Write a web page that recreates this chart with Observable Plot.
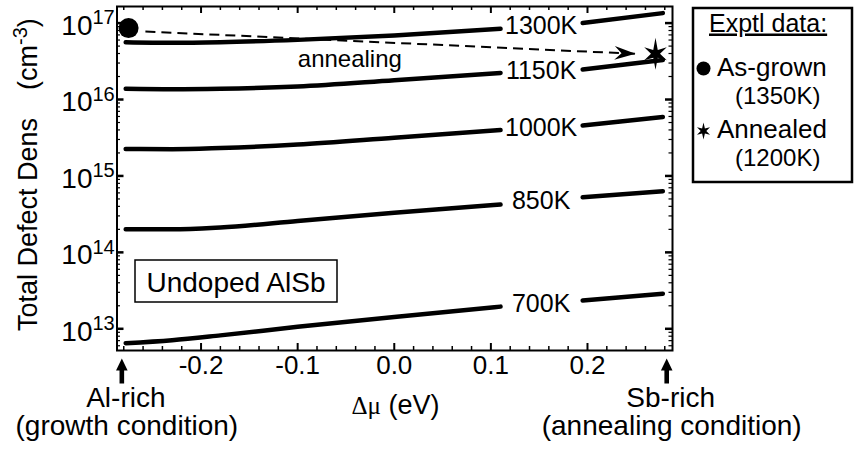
<!DOCTYPE html>
<html><head><meta charset="utf-8">
<script src="https://cdn.jsdelivr.net/npm/d3@7"></script>
<script src="https://cdn.jsdelivr.net/npm/@observablehq/plot@0.6"></script>
<style>
body{margin:0;background:#fff;}
svg text{font-family:"Liberation Sans",Arial,Helvetica,sans-serif;}
</style></head><body><div id="chart"></div>
<script>
// ---- data ----
const deltaMu = [-0.278, -0.23, -0.18, -0.1, 0.0, 0.11, 0.195, 0.278];
const temperatures = ["1300K", "1150K", "1000K", "850K", "700K"];
const dens1300K = [5.62e16, 5.52e16, 5.62e16, 6.03e16, 6.89e16, 8.41e16, 1.00e17, 1.35e17];
const dens1150K = [1.38e16, 1.36e16, 1.38e16, 1.48e16, 1.79e16, 2.23e16, 2.47e16, 3.29e16];
const dens1000K = [2.26e15, 2.24e15, 2.32e15, 2.57e15, 3.16e15, 3.98e15, 4.57e15, 5.89e15];
const dens850K  = [2.00e14, 2.00e14, 2.12e14, 2.57e14, 3.29e14, 4.22e14, 5.25e14, 6.31e14];
const dens700K  = [6.49e12, 7.10e12, 8.20e12, 1.06e13, 1.43e13, 1.95e13, 2.34e13, 2.87e13];
const labelDeltaMu = 0.152;

const exptNames = ["As-grown", "Annealed"];
const exptTemps = ["(1350K)", "(1200K)"];
const exptDeltaMu = [-0.275, 0.2704];
const exptDensity = [8.6e16, 3.96e16];

const arrowStart = [-0.2576, 7.76e16];
const arrowEnd = [0.2497, 3.96e16];
const arrowLabel = "annealing";
const arrowLabelPos = [-0.046, 3.38e16];

const xTicks = [-0.2, -0.1, 0.0, 0.1, 0.2];
const xTickLabels = ["-0.2", "-0.1", "0.0", "0.1", "0.2"];
const yTicks = [1e13, 1e14, 1e15, 1e16, 1e17];
const yTickExponents = ["13", "14", "15", "16", "17"];

const conditionDeltaMu = [-0.282, 0.282];
const conditionNames = ["Al-rich", "Sb-rich"];
const conditionNotes = ["(growth condition)", "(annealing condition)"];

// ---- layout ----
const W = 854, H = 457, mL = 116.5, mR = 182, mT = 6, mB = 107;
const innerW = W - mL - mR, innerH = H - mT - mB;
const xDomain = [-0.287, 0.288];
const yDomain = [Math.pow(10, 12.716), Math.pow(10, 17.217)];

const series = [dens1300K, dens1150K, dens1000K, dens850K, dens700K];
const rows = [];
series.forEach((vals, s) => vals.forEach((v, i) => rows.push({
  temp: temperatures[s], side: deltaMu[i] < labelDeltaMu ? "L" : "R", x: deltaMu[i], y: v
})));
const gapIdx = deltaMu.findIndex(d => d > labelDeltaMu);
const labelRows = series.map((vals, s) => ({
  x: labelDeltaMu, y: Math.sqrt(vals[gapIdx - 1] * vals[gapIdx]), text: temperatures[s]
}));

const xMinor = d3.range(-14, 15).map(k => k * 0.02).filter(v => Math.abs(Math.round(v * 10) - v * 10) > 1e-6);
const yMinor = [];
for (let e = 12; e <= 17; e++) for (let m = 2; m <= 9; m++) {
  const v = m * Math.pow(10, e);
  if (v > yDomain[0] && v < yDomain[1]) yMinor.push(v);
}

// pixel helpers to orient the arrowhead
const px = v => mL + (v - xDomain[0]) / (xDomain[1] - xDomain[0]) * innerW;
const ly = Math.log10;
const py = v => mT + (ly(yDomain[1]) - ly(v)) / (ly(yDomain[1]) - ly(yDomain[0])) * innerH;
const theta = Math.atan2(py(arrowEnd[1]) - py(arrowStart[1]), px(arrowEnd[0]) - px(arrowStart[0]));

const headSymbol = {draw(ctx) {
  const pts = [[0, 0], [-21, -7], [-14, 0], [-21, 7]];
  pts.forEach(([x, y], i) => {
    const X = x * Math.cos(theta) - y * Math.sin(theta), Y = x * Math.sin(theta) + y * Math.cos(theta);
    i ? ctx.lineTo(X, Y) : ctx.moveTo(X, Y);
  });
  ctx.closePath();
}};
const star6 = (rLong, rShort, rIn) => ({draw(ctx) {
  for (let k = 0; k < 12; k++) {
    const a = k * Math.PI / 6;
    const r = k % 2 ? rIn : (k === 0 || k === 6 ? rLong : rShort);
    const X = r * Math.sin(a), Y = -r * Math.cos(a);
    k ? ctx.lineTo(X, Y) : ctx.moveTo(X, Y);
  }
  ctx.closePath();
}});
const upArrow = {draw(ctx) {
  ctx.moveTo(0, 8); ctx.lineTo(5.8, 20); ctx.lineTo(2.3, 20); ctx.lineTo(2.3, 33);
  ctx.lineTo(-2.3, 33); ctx.lineTo(-2.3, 20); ctx.lineTo(-5.8, 20); ctx.closePath();
}};
const circleSym = {draw(ctx) { ctx.moveTo(10, 0); ctx.arc(0, 0, 10, 0, 2 * Math.PI); }};

const svg = Plot.plot({
  width: W, height: H,
  marginLeft: mL, marginRight: mR, marginTop: mT, marginBottom: mB,
  style: {fontFamily: "Liberation Sans, Arial, sans-serif", background: "#fff", color: "#000", overflow: "visible"},
  x: {type: "linear", domain: xDomain, axis: null},
  y: {type: "log", domain: yDomain, axis: null},
  marks: [
    // inward ticks on all four sides
    Plot.tickX(xMinor, {x: d => d, insetTop: innerH - 4, strokeWidth: 1.5}),
    Plot.tickX(xMinor, {x: d => d, insetBottom: innerH - 4, strokeWidth: 1.5}),
    Plot.tickX(xTicks, {x: d => d, insetTop: innerH - 7, strokeWidth: 2}),
    Plot.tickX(xTicks, {x: d => d, insetBottom: innerH - 7, strokeWidth: 2}),
    Plot.tickY(yMinor, {y: d => d, insetRight: innerW - 3.5, strokeWidth: 1.2}),
    Plot.tickY(yMinor, {y: d => d, insetLeft: innerW - 3.5, strokeWidth: 1.2}),
    Plot.tickY(yTicks, {y: d => d, insetRight: innerW - 7, strokeWidth: 2.5}),
    Plot.tickY(yTicks, {y: d => d, insetLeft: innerW - 7, strokeWidth: 2.5}),
    Plot.frame({stroke: "#000", strokeWidth: 2}),
    // tick labels
    Plot.text(xTicks, {x: d => d, frameAnchor: "bottom", text: (d, i) => xTickLabels[i], dy: 23.5, fontSize: 26, fill: "#000"}),
    Plot.text(yTicks, {y: d => d, frameAnchor: "left", text: () => "10", textAnchor: "end", dx: -24.5, dy: 3, fontSize: 28, fill: "#000"}),
    Plot.text(yTicks, {y: d => d, frameAnchor: "left", text: (d, i) => yTickExponents[i], textAnchor: "start", dx: -24.5, dy: -5, fontSize: 20, fill: "#000"}),
    // curves
    Plot.line(rows, {x: "x", y: "y", z: d => d.temp + d.side, curve: "monotone-x", stroke: "#000", strokeWidth: 4.5, strokeLinecap: "round"}),
    Plot.text(labelRows, {x: "x", y: "y", text: "text", fontSize: 25, fill: "#000"}),
    // annealing arrow
    Plot.link([{x1: arrowStart[0], y1: arrowStart[1], x2: arrowEnd[0], y2: arrowEnd[1]}],
      {x1: "x1", y1: "y1", x2: "x2", y2: "y2", stroke: "#000", strokeWidth: 2, strokeDasharray: "10,6"}),
    Plot.dot([arrowEnd], {x: d => d[0], y: d => d[1], symbol: headSymbol, fill: "#000", stroke: "none", r: 5}),
    Plot.text([arrowLabelPos], {x: d => d[0], y: d => d[1], text: () => arrowLabel, fontSize: 24, fill: "#000"}),
    // experimental points
    Plot.dot(exptDeltaMu, {x: d => d, y: (d, i) => exptDensity[i], symbol: (d, i) => i === 0 ? "as" : "an", fill: "#000", stroke: "none", r: 6}),
    // condition arrows and labels
    Plot.dot(conditionDeltaMu, {x: d => d, frameAnchor: "bottom", symbol: upArrow, fill: "#000", stroke: "none", r: 5}),
    Plot.text(conditionDeltaMu, {x: d => d, frameAnchor: "bottom", text: (d, i) => conditionNames[i], dx: 4, dy: 56, fontSize: 28, fill: "#000"}),
    Plot.text(conditionDeltaMu, {x: d => d, frameAnchor: "bottom", text: (d, i) => conditionNotes[i], dx: 5, dy: 84, fontSize: 28, fill: "#000"})
  ],
  symbol: {domain: ["as", "an"], range: [circleSym, star6(16, 13, 4.5)]}
});

const s = d3.select(svg);
// y axis title
s.append("text").attr("transform", "translate(37,224.5) rotate(-90)").attr("text-anchor", "middle")
  .attr("font-size", 27).attr("fill", "#000").text("Total Defect Dens");
const yt = s.append("text").attr("transform", "translate(37,90) rotate(-90)").attr("text-anchor", "start")
  .attr("font-size", 27).attr("fill", "#000");
yt.append("tspan").text("(cm");
yt.append("tspan").attr("dy", -10).attr("font-size", 20).text("-3");
yt.append("tspan").attr("dy", 10).text(")");
// x axis title
const xt = s.append("text").attr("x", 395.5).attr("y", 413.5).attr("text-anchor", "middle").attr("fill", "#000");
xt.append("tspan").attr("font-size", 25).style("font-family", "'Liberation Serif','Times New Roman',serif").text("Δμ");
xt.append("tspan").attr("font-size", 27).text(" (eV)");
// sample label box
s.append("rect").attr("x", 135).attr("y", 260).attr("width", 202).attr("height", 42)
  .attr("fill", "none").attr("stroke", "#000").attr("stroke-width", 1.5);
s.append("text").attr("x", 236).attr("y", 291.7).attr("text-anchor", "middle").attr("font-size", 28).attr("fill", "#000").text("Undoped AlSb");
// legend
s.append("rect").attr("x", 693).attr("y", 8).attr("width", 159).attr("height", 174)
  .attr("fill", "#fff").attr("stroke", "#000").attr("stroke-width", 2.5);
s.append("text").attr("x", 709).attr("y", 31.5).attr("text-anchor", "start").attr("font-size", 25).attr("fill", "#000")
  .style("text-decoration", "underline").text("Exptl data:");
s.append("circle").attr("cx", 703.5).attr("cy", 68.5).attr("r", 7).attr("fill", "#000");
s.append("path").attr("transform", "translate(703.5,131)").attr("fill", "#000")
  .attr("d", d3.symbol().type(star6(8.5, 7.5, 2.8))());
[[exptNames[0], 717, 76, 26], [exptTemps[0], 735, 104, 24], [exptNames[1], 717, 138, 26], [exptTemps[1], 735, 166, 24]]
  .forEach(([t, x, y, f]) => s.append("text").attr("x", x).attr("y", y).attr("text-anchor", "start")
    .attr("font-size", f).attr("fill", "#000").text(t));

document.getElementById("chart").appendChild(svg);
</script></body></html>
